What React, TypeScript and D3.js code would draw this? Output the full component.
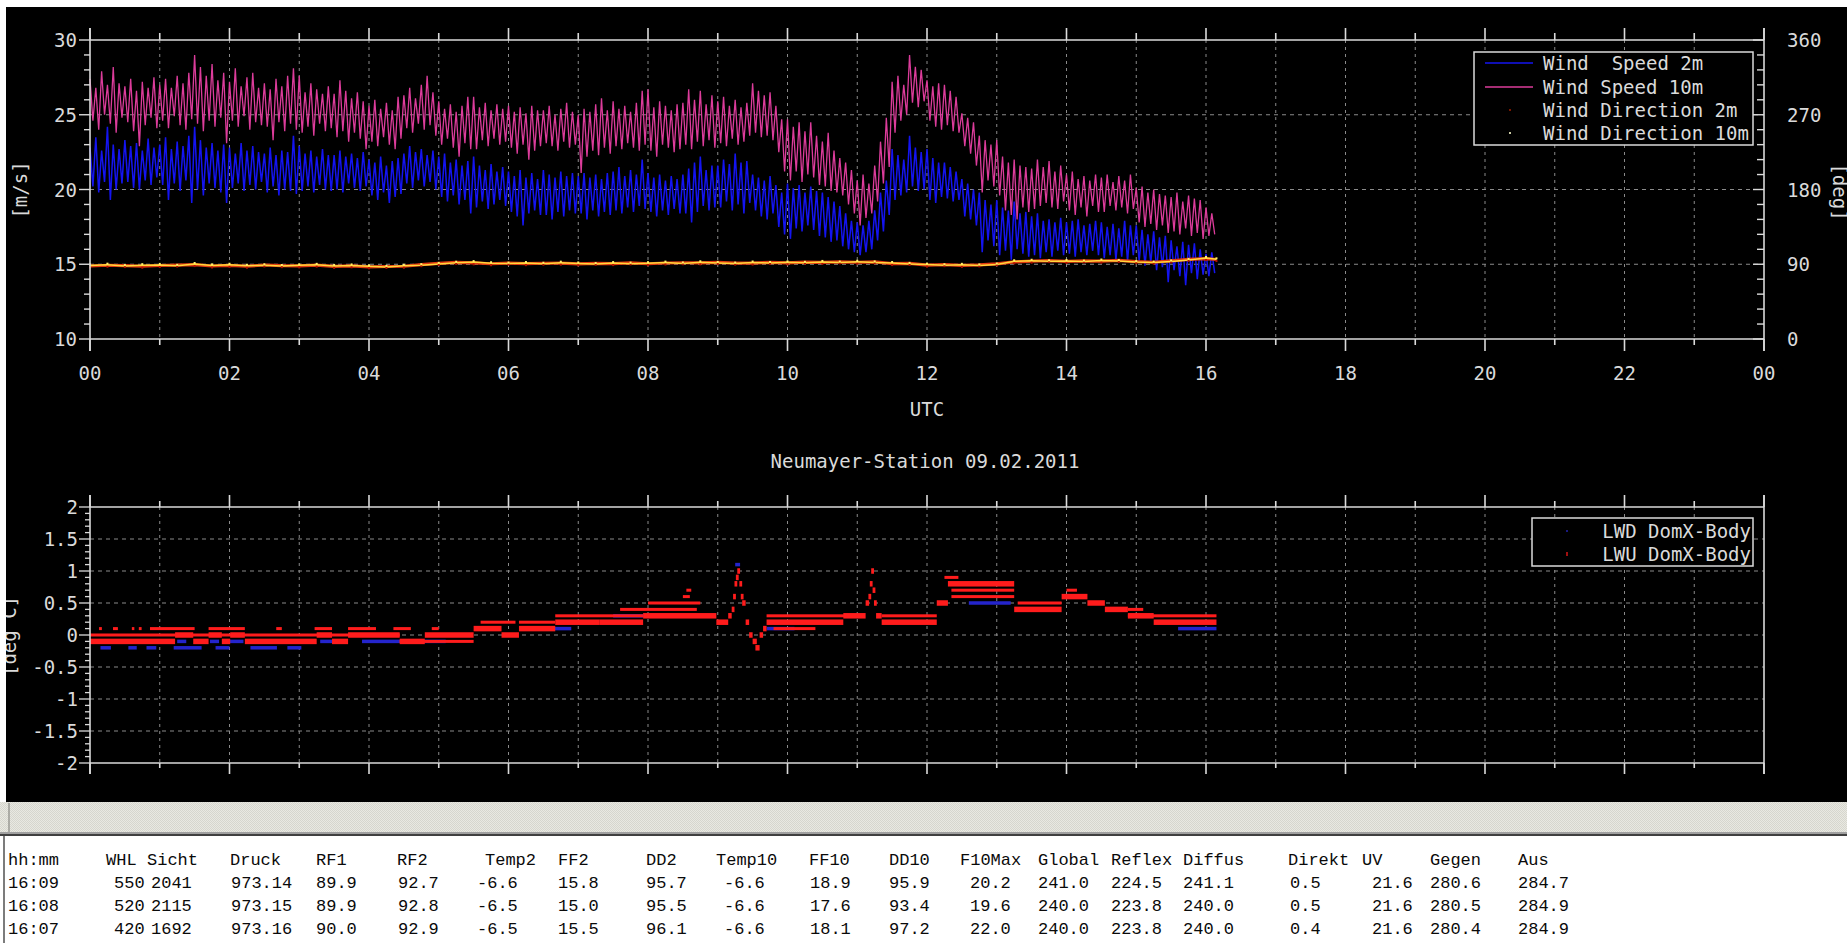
import React from "react";
import * as d3 from "d3";

// ---------- axis ticks ----------
const hourTickLabels = ["00", "02", "04", "06", "08", "10", "12", "14", "16", "18", "20", "22", "00"];
const speedTickValues = [10, 15, 20, 25, 30];
const dirTickValues = [0, 90, 180, 270, 360];
const tempTickValues = [-2, -1.5, -1, -0.5, 0, 0.5, 1, 1.5, 2];
const tempTickLabels = ["-2", "-1.5", "-1", "-0.5", "0", "0.5", "1", "1.5", "2"];

// ---------- wind speed 10 m : max / min per 5-minute bucket from 00:00 (m/s) ----------
const ff10Max = [
  27.4, 26.8, 27.9, 27.0, 28.2, 27.1, 26.9, 27.4, 26.6, 27.2, 26.8, 27.5,
  27.0, 27.4, 26.8, 27.6, 27.1, 27.8, 29.0, 28.2, 27.6, 28.4, 27.3, 27.8,
  27.2, 28.1, 26.9, 27.5, 27.8, 26.8, 27.1, 26.7, 27.4, 26.9, 27.6, 28.1,
  27.6, 26.5, 27.1, 26.7, 26.4, 26.9, 26.4, 27.3, 26.6, 26.1, 26.5, 25.9,
  25.6, 26.0, 25.4, 25.8, 25.3, 26.2, 26.3, 26.8, 26.1, 27.0, 27.6, 26.5,
  25.9, 25.4, 25.7, 25.2, 25.6, 26.2, 26.2, 25.5, 25.8, 25.3, 25.7, 25.4,
  25.6, 25.2, 25.5, 25.1, 25.6, 25.3, 25.3, 25.6, 25.0, 25.4, 25.8, 25.2,
  25.0, 25.4, 25.2, 25.7, 26.1, 25.3, 25.9, 25.4, 25.6, 25.2, 25.8, 26.6,
  26.7, 25.5, 25.9, 25.6, 25.3, 25.7, 25.8, 26.7, 26.0, 26.6, 25.7, 26.3,
  25.9, 26.2, 25.6, 26.0, 25.5, 25.8, 27.1, 26.6, 26.3, 26.5, 25.6, 24.7,
  24.7, 24.2, 24.5, 23.9, 24.5, 23.6, 23.2, 23.8, 22.6, 22.1, 21.8, 21.3,
  20.6, 21.0, 20.4, 21.6, 23.2, 24.8, 27.2, 27.6, 27.0, 29.0, 28.2, 28.0,
  27.3, 26.9, 27.1, 27.0, 26.6, 26.2, 25.1, 24.8, 24.5, 23.6, 23.3, 23.0,
  23.3, 22.2, 21.8, 22.0, 21.6, 21.5, 21.4, 22.0, 21.5, 21.9, 21.2, 21.6,
  21.0, 21.2, 20.7, 20.9, 20.6, 21.0, 20.8, 21.0, 20.5, 20.9, 20.6, 21.0,
  20.1, 20.2, 19.8, 20.0, 19.7, 19.6, 19.5, 19.8, 19.2, 19.6, 19.4, 19.3,
  18.8, 18.4,
];
const ff10Min = [
  24.6, 24.0, 25.0, 24.4, 23.8, 24.8, 24.5, 23.9, 22.9, 24.3, 24.8, 24.1,
  24.6, 24.1, 24.9, 24.3, 24.0, 24.7, 24.4, 23.9, 24.6, 24.2, 24.8, 23.1,
  24.6, 24.2, 24.9, 24.0, 24.5, 24.3, 24.2, 23.3, 24.5, 23.9, 24.4, 24.0,
  23.8, 24.2, 23.6, 24.4, 23.9, 24.1, 23.5, 23.9, 23.2, 23.8, 23.4, 22.7,
  23.2, 22.9, 23.5, 23.0, 22.7, 23.4, 24.1, 23.8, 24.4, 24.0, 24.3, 23.6,
  23.0, 23.4, 22.8, 22.2, 23.1, 22.7, 22.7, 23.3, 22.9, 23.4, 23.0, 23.2,
  22.8, 22.4, 23.0, 22.0, 22.6, 22.9, 23.1, 22.9, 22.6, 23.2, 22.8, 23.0,
  21.1, 22.2, 22.6, 22.3, 22.8, 22.4, 22.9, 22.7, 23.1, 22.8, 22.6, 23.0,
  22.6, 22.2, 23.0, 22.8, 22.5, 22.7, 23.0, 22.7, 23.2, 22.9, 23.3, 22.8,
  23.1, 22.9, 23.4, 23.0, 23.2, 23.6, 23.8, 23.5, 23.6, 23.3, 22.5, 21.2,
  20.6, 21.2, 20.5, 21.0, 20.8, 20.3, 20.2, 19.9, 19.8, 19.6, 19.0, 18.4,
  17.6, 18.1, 18.4, 19.2, 20.4, 21.5, 23.8, 24.6, 25.0, 25.8, 25.5, 25.9,
  24.6, 24.2, 24.0, 24.3, 23.9, 23.8, 22.9, 22.4, 21.6, 19.8, 20.6, 20.2,
  19.6, 18.6, 18.3, 18.0, 18.8, 18.5, 18.7, 18.9, 19.1, 18.8, 18.7, 19.2,
  18.6, 18.3, 18.8, 18.2, 18.9, 18.5, 18.5, 18.9, 18.6, 18.8, 18.4, 18.7,
  17.8, 17.5, 17.7, 17.3, 17.6, 17.1, 17.2, 17.0, 17.4, 16.9, 17.1, 16.7,
  16.9, 17.0,
];

// ---------- wind speed 2 m : max / min per 5-minute bucket (m/s) ----------
const ff2Max = [
  22.8, 23.5, 22.6, 24.2, 23.0, 22.7, 23.3, 22.9, 23.1, 22.6, 23.4, 22.8,
  23.0, 23.5, 22.7, 23.2, 22.9, 23.6, 24.2, 23.3, 22.8, 23.1, 22.6, 23.0,
  22.8, 22.4, 23.1, 22.6, 22.9, 22.5, 22.4, 22.8, 22.3, 22.6, 22.5, 23.6,
  22.9, 22.4, 22.6, 22.2, 22.7, 22.3, 22.3, 22.6, 22.2, 22.4, 22.1, 22.5,
  22.0, 21.8, 22.2, 21.6, 21.9, 22.1, 22.4, 22.9, 22.5, 22.7, 22.3, 22.6,
  22.2, 22.4, 21.8, 22.0, 21.6, 21.9, 22.2, 21.6, 21.3, 21.7, 21.2, 21.5,
  21.2, 20.9, 21.3, 20.8, 21.1, 20.7, 21.3, 21.0, 20.8, 21.2, 20.9, 21.1,
  20.9, 21.1, 20.8, 21.0, 20.7, 21.1, 21.2, 21.5, 20.9, 21.3, 21.0, 22.0,
  21.1, 20.8, 21.0, 20.6, 20.9, 20.7, 21.0, 21.4, 21.8, 22.2, 21.3, 21.6,
  21.6, 22.0, 21.7, 22.4, 21.8, 21.9, 21.0, 20.8, 20.6, 20.9, 20.3, 19.8,
  20.4, 20.1, 20.3, 19.8, 20.2, 19.9, 19.8, 19.5, 19.2, 18.9, 18.4, 17.9,
  17.8, 17.6, 17.9, 18.6, 19.8, 20.6, 22.7, 22.3, 22.0, 23.6, 22.8, 22.5,
  22.7, 22.1, 21.8, 21.8, 21.5, 21.2, 20.7, 20.4, 20.0, 19.8, 19.3, 19.0,
  19.3, 18.8, 18.6, 19.2, 18.4, 18.5, 18.2, 18.4, 17.9, 18.0, 17.8, 18.1,
  17.8, 17.9, 18.0, 17.6, 17.7, 17.9, 17.8, 17.5, 17.7, 17.4, 17.9, 17.6,
  17.6, 17.3, 17.0, 17.2, 16.8, 16.9, 16.6, 16.2, 16.5, 16.3, 16.4, 16.0,
  15.7, 15.8,
];
const ff2Min = [
  20.2, 19.8, 20.5, 19.3, 20.0, 20.4, 20.5, 20.1, 20.0, 20.6, 20.3, 20.8,
  20.3, 19.3, 20.4, 19.9, 20.6, 19.1, 20.0, 19.6, 20.4, 20.1, 19.8, 19.1,
  20.1, 20.4, 19.9, 20.3, 20.0, 20.5, 19.8, 20.2, 19.6, 20.0, 19.9, 19.7,
  19.9, 20.2, 19.8, 20.3, 20.0, 19.9, 20.0, 19.8, 20.4, 20.1, 19.9, 20.2,
  19.6, 19.3, 19.8, 19.1, 19.5, 19.7, 20.4, 20.1, 20.6, 20.2, 20.5, 20.0,
  19.5, 19.2, 19.6, 19.0, 19.3, 18.4, 18.8, 19.2, 18.7, 19.0, 19.3, 18.9,
  18.5, 18.2, 17.6, 18.4, 18.6, 18.3, 18.3, 18.0, 18.5, 18.2, 18.6, 18.4,
  18.4, 18.0, 18.6, 18.2, 18.5, 18.3, 18.6, 18.4, 18.8, 18.5, 18.9, 18.7,
  18.5, 18.2, 18.6, 18.3, 18.7, 18.4, 18.4, 17.8, 18.5, 18.9, 18.6, 18.8,
  18.8, 19.2, 18.6, 19.0, 18.4, 19.1, 18.6, 18.2, 18.0, 18.4, 17.5, 17.0,
  16.7, 17.4, 17.2, 17.6, 17.3, 16.9, 16.8, 16.5, 16.6, 16.2, 16.0, 15.8,
  15.6, 15.8, 16.0, 16.6, 17.2, 18.3, 19.3, 19.6, 19.8, 20.2, 19.9, 20.0,
  19.3, 19.1, 19.5, 19.4, 19.2, 19.3, 18.2, 18.0, 17.6, 15.8, 16.6, 16.2,
  15.6, 15.9, 15.3, 16.0, 15.7, 15.5, 15.6, 15.4, 15.8, 15.5, 15.9, 15.6,
  15.7, 15.5, 15.8, 15.6, 15.9, 15.6, 15.4, 15.6, 15.3, 15.5, 15.2, 15.6,
  15.2, 14.9, 15.1, 14.6, 14.8, 13.8, 14.6, 14.2, 13.6, 14.4, 14.0, 14.3,
  14.2, 14.4,
];

// ---------- wind direction every 15 minutes, last reading 16:09 (deg) ----------
const dd10 = [
  88.5, 89.5, 87.8, 88.9, 89.2, 88.1, 90.3, 88.6, 89.4, 88.2, 88.8, 87.9,
  88.7, 89.3, 88.0, 88.6, 87.5, 86.8, 88.2, 88.9, 90.4, 91.8, 92.6, 91.2,
  90.8, 91.5, 90.6, 91.9, 91.0, 90.2, 91.4, 90.7, 91.3, 92.0, 90.9, 92.4,
  91.6, 90.8, 92.1, 91.5, 92.3, 91.7, 92.8, 92.0, 93.0, 92.2, 91.5, 90.4,
  89.6, 88.8, 89.3, 88.5, 89.7, 93.6, 94.2, 93.5, 94.0, 93.2, 94.5, 93.8,
  92.6, 92.0, 93.4, 95.2, 97.6, 95.9,
];
const dd2 = [
  87.9, 88.8, 88.4, 87.6, 88.5, 89.0, 89.6, 87.9, 88.7, 87.6, 89.1, 88.3,
  88.0, 88.9, 87.4, 88.1, 86.9, 87.3, 87.6, 89.5, 91.0, 92.3, 91.7, 90.6,
  91.4, 90.7, 91.2, 91.3, 90.5, 91.1, 90.8, 91.6, 90.6, 91.5, 91.8, 91.7,
  92.2, 91.3, 91.4, 92.3, 91.6, 92.5, 92.2, 92.9, 92.4, 92.9, 90.8, 91.1,
  88.9, 89.5, 88.6, 89.2, 90.5, 92.8, 93.7, 94.4, 93.4, 94.1, 93.7, 94.6,
  93.1, 92.4, 94.0, 95.8, 96.8, 95.7,
];
const ddMinutes = [...d3.range(0, 961, 15), 969];

// ---------- LWU / LWD DomX-Body : runs [start h, end h, value deg C] ----------
const lwuRuns: [number, number, number][] = [
  [0.0, 1.22, -0.1], [1.22, 1.48, 0.0], [1.48, 1.7, -0.1], [1.7, 1.89, 0.0],
  [1.89, 2.01, -0.1], [2.01, 2.22, 0.0], [2.22, 3.25, -0.1], [3.25, 3.47, 0.0],
  [3.47, 3.7, -0.1], [3.7, 4.44, 0.0], [4.44, 4.8, -0.1], [4.8, 5.5, 0.0],
  [5.5, 5.9, 0.1], [5.9, 6.15, 0.0], [6.15, 6.67, 0.1], [6.67, 7.3, 0.2],
  [7.3, 7.93, 0.2], [7.93, 8.98, 0.3], [8.98, 9.15, 0.2],
  [9.15, 9.2, 0.3], [9.2, 9.24, 0.4], [9.22, 9.26, 0.6], [9.24, 9.28, 0.8],
  [9.26, 9.3, 0.9], [9.28, 9.32, 1.0], [9.31, 9.35, 0.8], [9.33, 9.37, 0.6],
  [9.35, 9.4, 0.5], [9.4, 9.45, 0.2], [9.45, 9.5, 0.0], [9.5, 9.56, -0.1],
  [9.54, 9.6, -0.2], [9.6, 9.65, 0.0], [9.65, 9.7, 0.1],
  [9.7, 10.8, 0.2], [10.8, 11.12, 0.3],
  [11.12, 11.17, 0.5], [11.16, 11.2, 0.6], [11.18, 11.22, 0.8], [11.2, 11.24, 1.0],
  [11.22, 11.26, 0.7], [11.24, 11.28, 0.5], [11.27, 11.35, 0.3],
  [11.35, 12.14, 0.2], [12.14, 12.3, 0.5], [12.3, 13.25, 0.8], [13.25, 13.93, 0.4],
  [13.93, 14.3, 0.6], [14.3, 14.55, 0.5], [14.55, 14.88, 0.4], [14.88, 15.25, 0.3],
  [15.25, 16.15, 0.2],
];
const lwuMinorRuns: [number, number, number][] = [
  [0.0, 4.44, 0.0], [0.13, 0.17, 0.1], [0.33, 0.4, 0.1], [0.6, 0.63, 0.1],
  [0.7, 0.74, 0.1], [0.86, 1.5, 0.1], [1.7, 2.22, 0.1], [2.67, 2.75, 0.1],
  [3.22, 3.47, 0.1], [3.7, 4.1, 0.1], [4.35, 4.6, 0.1], [4.9, 5.0, 0.1],
  [4.44, 5.5, -0.1], [5.6, 6.1, 0.2], [6.15, 6.67, 0.2], [6.67, 7.93, 0.3],
  [7.6, 8.7, 0.4], [8.0, 8.75, 0.5], [8.5, 8.6, 0.6], [8.55, 8.62, 0.7],
  [9.7, 11.1, 0.3], [9.8, 10.4, 0.1], [11.35, 12.14, 0.3], [12.25, 12.45, 0.9],
  [12.35, 13.25, 0.7], [12.35, 13.25, 0.6], [13.3, 13.93, 0.5], [14.0, 14.15, 0.7],
  [14.88, 16.15, 0.3], [14.88, 15.1, 0.4],
];
const lwdRuns: [number, number, number][] = [
  [0.15, 0.3, -0.2], [0.55, 0.67, -0.2], [0.81, 0.95, -0.2], [1.2, 1.6, -0.2],
  [1.8, 2.0, -0.2], [2.3, 2.68, -0.2], [2.83, 3.03, -0.2], [1.25, 1.38, -0.1],
  [1.72, 1.85, -0.1], [2.0, 2.2, -0.1], [3.3, 3.5, -0.1], [3.9, 5.1, -0.1],
  [6.5, 6.9, 0.1], [7.5, 8.9, 0.3], [9.25, 9.32, 1.1], [9.7, 10.1, 0.1],
  [12.6, 13.2, 0.5], [15.6, 16.15, 0.1],
];

// ---------- table ----------
const tableHeader = ["hh:mm", "WHL", "Sicht", "Druck", "RF1", "RF2", "Temp2", "FF2", "DD2", "Temp10", "FF10", "DD10", "F10Max", "Global", "Reflex", "Diffus", "Direkt", "UV", "Gegen", "Aus"];
const row1609 = ["16:09", "550", "2041", "973.14", "89.9", "92.7", "-6.6", "15.8", "95.7", "-6.6", "18.9", "95.9", "20.2", "241.0", "224.5", "241.1", "0.5", "21.6", "280.6", "284.7"];
const row1608 = ["16:08", "520", "2115", "973.15", "89.9", "92.8", "-6.5", "15.0", "95.5", "-6.6", "17.6", "93.4", "19.6", "240.0", "223.8", "240.0", "0.5", "21.6", "280.5", "284.9"];
const row1607 = ["16:07", "420", "1692", "973.16", "90.0", "92.9", "-6.5", "15.5", "96.1", "-6.6", "18.1", "97.2", "22.0", "240.0", "223.8", "240.0", "0.4", "21.6", "280.4", "284.9"];
const tableRows = [row1609, row1608, row1607];

// layout (positions only)
const headerX = [8, 106, 147, 230, 316, 397, 485, 558, 646, 716, 809, 889, 960, 1038, 1111, 1183, 1288, 1362, 1430, 1518];
const valueX = [8, 114, 151, 231, 316, 398, 477, 558, 646, 724, 810, 889, 970, 1038, 1111, 1183, 1290, 1372, 1430, 1518];

const FONT = "'DejaVu Sans Mono', monospace";
const TFONT = "'Liberation Mono', monospace";
const FG = "#dadada";
const GRID = "#8a8a8a";
const BLUE = "#1414f0";
const PINK = "#dc3c9b";
const RED = "#ff1c1c";
const DIR2 = "#e23a10";
const DIR10 = "#ffd83a";

export default function App() {
  const x = d3.scaleLinear().domain([0, 24]).range([90, 1764]);
  const yS = d3.scaleLinear().domain([10, 30]).range([339, 40]);
  const yD = d3.scaleLinear().domain([0, 360]).range([339, 40]);
  const yT = d3.scaleLinear().domain([-2, 2]).range([763, 507]);

  const zig = (hi: number[], lo: number[]) =>
    hi.flatMap((h, i) => [[i * 5, h], [i * 5 + 2.5, lo[i]]] as [number, number][]);
  const speedLine = d3
    .line<[number, number]>()
    .x((d) => x(d[0] / 60))
    .y((d) => yS(d[1]));
  const dirLine = d3
    .line<[number, number]>()
    .x((d) => x(d[0] / 60))
    .y((d) => yD(d[1]));

  const hours = d3.range(0, 25);
  const innerHours = d3.range(1, 24);
  const speedMinor = d3.range(10, 31);
  const tempMinor = d3.range(-20, 21).map((v) => v / 10);

  const dir2Pts = dd2.map((v, i) => [ddMinutes[i], v] as [number, number]);
  const dir10Pts = dd10.map((v, i) => [ddMinutes[i], v] as [number, number]);

  const runRects = (runs: [number, number, number][], color: string, h: number, key: string) =>
    runs.map(([s, e, v], i) => (
      <rect
        key={key + i}
        x={x(s)}
        y={yT(v) - h / 2}
        width={Math.max(2.5, x(e) - x(s))}
        height={h}
        fill={color}
      />
    ));

  const t = (props: any, s: string) => (
    <text fontFamily={FONT} fontSize={19} fill={FG} {...props}>
      {s}
    </text>
  );

  return (
    <svg
      width={1847}
      height={943}
      style={{ position: "absolute", left: 0, top: 0, display: "block" }}
    >
      <defs>
        <pattern id="chk" width="2" height="2" patternUnits="userSpaceOnUse">
          <rect width="2" height="2" fill="#e9e9e2" />
          <rect width="1" height="1" fill="#d6d6ce" />
          <rect x="1" y="1" width="1" height="1" fill="#d6d6ce" />
        </pattern>
      </defs>
      <rect x={0} y={0} width={1847} height={943} fill="#ffffff" />
      <rect x={6} y={7} width={1841} height={795} fill="#000000" />

      {/* ================= TOP PLOT ================= */}
      {innerHours.map((h) => (
        <line key={"tg" + h} x1={x(h)} x2={x(h)} y1={40} y2={339} stroke={GRID} strokeDasharray="3,4" />
      ))}
      {[15, 20, 25].map((v) => (
        <line key={"th" + v} x1={90} x2={1764} y1={yS(v)} y2={yS(v)} stroke={GRID} strokeDasharray="4,4" />
      ))}

      <path d={speedLine(zig(ff2Max, ff2Min)) || ""} fill="none" stroke={BLUE} strokeWidth={1.5} />
      <path d={speedLine(zig(ff10Max, ff10Min)) || ""} fill="none" stroke={PINK} strokeWidth={1.3} />
      <path d={dirLine(dir2Pts) || ""} fill="none" stroke={DIR2} strokeWidth={3.2} />
      <path d={dirLine(dir10Pts) || ""} fill="none" stroke={DIR10} strokeWidth={1.5} />
      {dir2Pts.map((p, i) => (
        <rect key={"d2" + i} x={x(p[0] / 60) - 1} y={yD(p[1]) + 0.5} width={2} height={2} fill="#b01000" />
      ))}
      {dir10Pts.map((p, i) => (
        <rect key={"d10" + i} x={x(p[0] / 60) - 1} y={yD(p[1]) - 2} width={2} height={2} fill="#fff06a" />
      ))}

      {/* frame & ticks */}
      <line x1={90} x2={1764} y1={40} y2={40} stroke={FG} strokeWidth={1.6} />
      <line x1={90} x2={1764} y1={339} y2={339} stroke={FG} strokeWidth={1.6} />
      <line x1={90} x2={90} y1={28} y2={351} stroke={FG} strokeWidth={1.6} />
      <line x1={1764} x2={1764} y1={28} y2={351} stroke={FG} strokeWidth={1.6} />
      {hours.map((h) => (
        <g key={"tt" + h}>
          <line x1={x(h)} x2={x(h)} y1={h % 2 === 0 ? 28 : 33} y2={40} stroke={FG} strokeWidth={1.6} />
          <line x1={x(h)} x2={x(h)} y1={339} y2={h % 2 === 0 ? 351 : 345} stroke={FG} strokeWidth={1.6} />
        </g>
      ))}
      {speedMinor.map((v) => (
        <g key={"sm" + v}>
          <line x1={v % 5 === 0 ? 79 : 84} x2={90} y1={yS(v)} y2={yS(v)} stroke={FG} strokeWidth={1.4} />
          <line x1={v % 5 === 0 ? 1753 : 1757} x2={1764} y1={yS(v)} y2={yS(v)} stroke={FG} strokeWidth={1.4} />
        </g>
      ))}
      {speedTickValues.map((v) => t({ key: "sl" + v, x: 77, y: yS(v) + 7, textAnchor: "end" }, String(v)))}
      {dirTickValues.map((v) => t({ key: "dl" + v, x: 1787, y: yD(v) + 7 }, String(v)))}
      {hourTickLabels.map((s, i) => t({ key: "hl" + i, x: x(i * 2), y: 380, textAnchor: "middle" }, s))}
      {t({ x: 927, y: 416, textAnchor: "middle" }, "UTC")}
      {t({ x: 925, y: 468, textAnchor: "middle" }, "Neumayer-Station 09.02.2011")}
      {t({ transform: "translate(27,190) rotate(-90)", textAnchor: "middle" }, "[m/s]")}
      {t({ transform: "translate(1833,192) rotate(90)", textAnchor: "middle" }, "[deg]")}

      {/* top legend */}
      <rect x={1474} y={52} width={279} height={93} fill="#000" stroke={FG} strokeWidth={1.5} />
      <line x1={1485} x2={1533} y1={63} y2={63} stroke={BLUE} strokeWidth={1.5} />
      <line x1={1485} x2={1533} y1={87} y2={87} stroke={PINK} strokeWidth={1.5} />
      <rect x={1509} y={109} width={2} height={2} fill="#7a1800" />
      <rect x={1509} y={132} width={2} height={2} fill="#c8c8a0" />
      {t({ x: 1543, y: 70, xmlSpace: "preserve" }, "Wind  Speed 2m")}
      {t({ x: 1543, y: 94 }, "Wind Speed 10m")}
      {t({ x: 1543, y: 117 }, "Wind Direction 2m")}
      {t({ x: 1543, y: 140 }, "Wind Direction 10m")}

      {/* ================= BOTTOM PLOT ================= */}
      {innerHours.map((h) => (
        <line key={"bg" + h} x1={x(h)} x2={x(h)} y1={507} y2={763} stroke={GRID} strokeDasharray="3,4" />
      ))}
      {[-1.5, -1, -0.5, 0, 0.5, 1, 1.5].map((v) => (
        <line key={"bh" + v} x1={90} x2={1764} y1={yT(v)} y2={yT(v)} stroke={GRID} strokeDasharray="4,4" />
      ))}
      {runRects(lwdRuns, "#2424cc", 3.5, "lwd")}
      {runRects(lwuMinorRuns, RED, 3, "lwm")}
      {runRects(lwuRuns, RED, 5.5, "lwu")}

      <line x1={90} x2={1764} y1={507} y2={507} stroke={FG} strokeWidth={1.6} />
      <line x1={90} x2={1764} y1={763} y2={763} stroke={FG} strokeWidth={1.6} />
      <line x1={90} x2={90} y1={495} y2={774} stroke={FG} strokeWidth={1.6} />
      <line x1={1764} x2={1764} y1={495} y2={774} stroke={FG} strokeWidth={1.6} />
      {hours.map((h) => (
        <g key={"bt" + h}>
          <line x1={x(h)} x2={x(h)} y1={h % 2 === 0 ? 495 : 501} y2={507} stroke={FG} strokeWidth={1.6} />
          <line x1={x(h)} x2={x(h)} y1={763} y2={h % 2 === 0 ? 774 : 768} stroke={FG} strokeWidth={1.6} />
        </g>
      ))}
      {tempMinor.map((v, i) => (
        <line
          key={"tm" + i}
          x1={Math.abs(v * 2 - Math.round(v * 2)) < 1e-6 ? 79 : 85}
          x2={90}
          y1={yT(v)}
          y2={yT(v)}
          stroke={FG}
          strokeWidth={1.3}
        />
      ))}
      {tempTickValues.map((v, i) => t({ key: "tl" + i, x: 78, y: yT(v) + 7, textAnchor: "end" }, tempTickLabels[i]))}
      {t({ transform: "translate(16,636) rotate(-90)", textAnchor: "middle" }, "[deg C]")}

      {/* bottom legend */}
      <rect x={1532} y={518} width={221} height={48} fill="#000" stroke={FG} strokeWidth={1.5} />
      <rect x={1566} y={530} width={2} height={2} fill="#1a1a80" />
      <rect x={1566} y={552} width={2} height={4} fill="#a01010" />
      {t({ x: 1751, y: 538, textAnchor: "end" }, "LWD DomX-Body")}
      {t({ x: 1751, y: 561, textAnchor: "end" }, "LWU DomX-Body")}

      {/* left white strip (clips the rotated label) */}
      <rect x={0} y={0} width={6} height={802} fill="#ffffff" />
      <rect x={0} y={0} width={1847} height={7} fill="#ffffff" />

      {/* ================= STATUS BAR + TABLE ================= */}
      <rect x={0} y={802} width={1847} height={30} fill="url(#chk)" />
      <line x1={9} x2={9} y1={803} y2={832} stroke="#9a9a94" strokeWidth={1.5} />
      <rect x={0} y={832} width={1847} height={2} fill="#a0a0a0" />
      <rect x={0} y={834} width={1847} height={2} fill="#404040" />
      <line x1={4} x2={4} y1={836} y2={943} stroke="#505050" strokeWidth={1.5} />
      {tableHeader.map((s, i) => (
        <text key={"th" + i} x={headerX[i]} y={865} fontFamily={TFONT} fontSize={17} fill="#0a0a0a">
          {s}
        </text>
      ))}
      {tableRows.map((row, r) =>
        row.map((s, i) => (
          <text
            key={"tr" + r + "_" + i}
            x={valueX[i]}
            y={888 + r * 23}
            fontFamily={TFONT}
            fontSize={17}
            fill="#0a0a0a"
          >
            {s}
          </text>
        ))
      )}
    </svg>
  );
}
